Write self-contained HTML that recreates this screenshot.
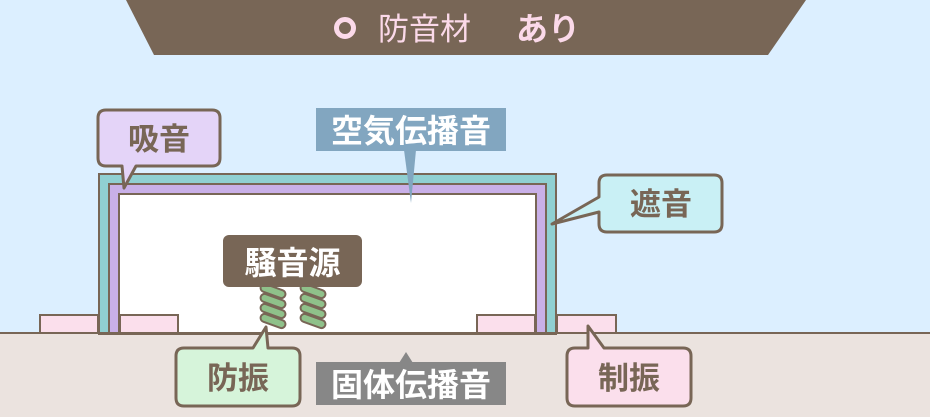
<!DOCTYPE html>
<html><head><meta charset="utf-8"><style>
html,body{margin:0;padding:0;background:#dcefff;}
svg{display:block;font-family:"Liberation Sans","Noto Sans CJK JP",sans-serif;}
</style></head><body>
<svg width="930" height="417" viewBox="0 0 930 417">
<rect width="930" height="417" fill="#dcefff"/>
<!-- banner -->
<polygon points="126,0 806,0 768,55 154,55" fill="#786656"/>
<circle cx="345" cy="28" r="8.5" fill="none" stroke="#fbd9e9" stroke-width="5"/>
<text x="378" y="40" font-size="31" fill="#fbd9e9" letter-spacing="0">防音材</text>
<text x="516" y="40" font-size="32" font-weight="bold" fill="#fbd9e9">あり</text>
<!-- ground -->
<rect x="0" y="332" width="930" height="85" fill="#ebe3df"/>
<!-- box -->
<rect x="99" y="174" width="457" height="160" fill="#90d0d2" stroke="#786656" stroke-width="2"/>
<rect x="109" y="184" width="437" height="150" fill="#c9b0e8" stroke="#786656" stroke-width="2"/>
<rect x="119" y="194" width="417" height="140" fill="#ffffff" stroke="#786656" stroke-width="2"/>
<!-- pads -->
<g fill="#fbdfec" stroke="#786656" stroke-width="2">
<rect x="40" y="315" width="58" height="18"/>
<rect x="120" y="315" width="58" height="18"/>
<rect x="477" y="315" width="58" height="18"/>
<rect x="557" y="315" width="59" height="18"/>
</g>
<line x1="0" y1="333" x2="930" y2="333" stroke="#786656" stroke-width="2"/>
<!-- springs -->
<g fill="#8fc18a" stroke="#786656" stroke-width="2">
<g transform="translate(273,0)">
<rect x="-13" y="287" width="26" height="8" rx="4" transform="rotate(20 0 291)"/>
<rect x="-13" y="297" width="26" height="8" rx="4" transform="rotate(20 0 301)"/>
<rect x="-13" y="307" width="26" height="8" rx="4" transform="rotate(20 0 311)"/>
<rect x="-13" y="317" width="26" height="8" rx="4" transform="rotate(20 0 321)"/>
</g>
<g transform="translate(313,0)">
<rect x="-13" y="287" width="26" height="8" rx="4" transform="rotate(20 0 291)"/>
<rect x="-13" y="297" width="26" height="8" rx="4" transform="rotate(20 0 301)"/>
<rect x="-13" y="307" width="26" height="8" rx="4" transform="rotate(20 0 311)"/>
<rect x="-13" y="317" width="26" height="8" rx="4" transform="rotate(20 0 321)"/>
</g>
</g>
<!-- 騒音源 -->
<rect x="223" y="235" width="139" height="52" rx="6" fill="#786656"/>
<text x="292.5" y="274" font-size="32" font-weight="bold" fill="#fff" text-anchor="middle">騒音源</text>
<!-- 吸音 -->
<path d="M106,110 H212 Q220,110 220,118 V158 Q220,166 212,166 H136 L124,188 L122,166 H106 Q98,166 98,158 V118 Q98,110 106,110 Z" fill="#e4d4f8" stroke="#786656" stroke-width="3" stroke-linejoin="round"/>
<text x="159" y="150" font-size="31" font-weight="bold" fill="#786656" text-anchor="middle">吸音</text>
<!-- 空気伝播音 -->
<rect x="316" y="108" width="190" height="43" fill="#82a6c0"/>
<polygon points="404,150 416,150 411,203" fill="#82a6c0"/>
<text x="411" y="142" font-size="32" font-weight="bold" fill="#fff" text-anchor="middle">空気伝播音</text>
<!-- 遮音 -->
<path d="M607,175 H714 Q722,175 722,183 V224 Q722,232 714,232 H607 Q599,232 599,224 V212 L552,224 L599,197 V183 Q599,175 607,175 Z" fill="#c9f0f5" stroke="#786656" stroke-width="3" stroke-linejoin="round"/>
<text x="661" y="215" font-size="31" font-weight="bold" fill="#786656" text-anchor="middle">遮音</text>
<!-- 防振 -->
<path d="M184,348 H253 L266,327 L268,348 H292 Q300,348 300,356 V398 Q300,406 292,406 H184 Q176,406 176,398 V356 Q176,348 184,348 Z" fill="#d6f4da" stroke="#786656" stroke-width="3" stroke-linejoin="round"/>
<text x="238" y="389" font-size="31" font-weight="bold" fill="#786656" text-anchor="middle">防振</text>
<!-- 固体伝播音 -->
<rect x="316" y="362" width="190" height="43" fill="#878787"/>
<polygon points="399,363 413,363 406,352" fill="#878787"/>
<text x="411" y="396" font-size="32" font-weight="bold" fill="#fff" text-anchor="middle">固体伝播音</text>
<!-- 制振 -->
<path d="M575,348 H588 L588,326 L604,348 H683 Q691,348 691,356 V398 Q691,406 683,406 H575 Q567,406 567,398 V356 Q567,348 575,348 Z" fill="#fbdfec" stroke="#786656" stroke-width="3" stroke-linejoin="round"/>
<text x="629" y="389" font-size="31" font-weight="bold" fill="#786656" text-anchor="middle">制振</text>
</svg>
</body></html>
